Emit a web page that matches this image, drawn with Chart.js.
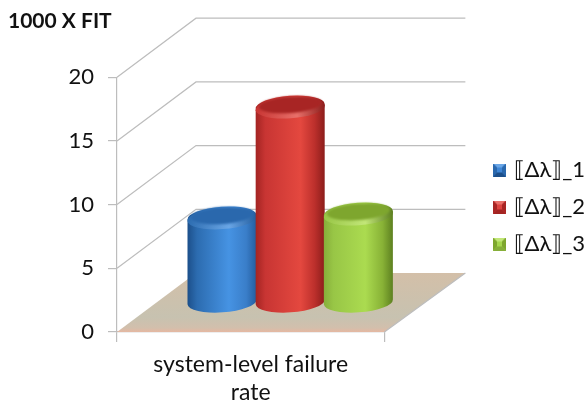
<!DOCTYPE html>
<html>
<head>
<meta charset="utf-8">
<style>
  html, body { margin: 0; padding: 0; background: #fff; }
  #wrap { width: 586px; height: 403px; }
</style>
<script src="https://cdn.jsdelivr.net/npm/chart.js@4"></script>
</head>
<body>
<div id="wrap"><canvas id="c" width="586" height="403"></canvas></div>
<script>
const categories = [["system-level failure", "rate"]];
const seriesNames = ["⟦Δλ⟧_1", "⟦Δλ⟧_2", "⟦Δλ⟧_3"];
const series1 = [6.7];
const series2 = [15.4];
const series3 = [7.0];
const yTicks = [0, 5, 10, 15, 20];
const axisTitle = "1000 X FIT";

// Colour ramps for each cylinder: body stops, top face, rim highlight
const palettes = [
  { base: "#3f86d6", top: "#2a68ad", rim: "#6aa6e6",
    body: [[0, "#1c4f8a"], [0.14, "#2c6cb0"], [0.6, "#4693e3"], [0.85, "#3a7ec9"], [1, "#235d9e"]] },
  { base: "#dc4340", top: "#a82524", rim: "#e8706a",
    body: [[0, "#a32422"], [0.14, "#c83533"], [0.65, "#e4483f"], [0.85, "#bd302c"], [1, "#8c1d1b"]] },
  { base: "#a5d64d", top: "#7ea62e", rim: "#c2e678",
    body: [[0, "#86ae3a"], [0.14, "#98c646"], [0.6, "#abdb50"], [0.85, "#88b236"], [1, "#5d8020"]] }
];

// Depth of the box and the position of the bars inside it
const depthX = 79;
const depthY = 59;
const capRy = 10.5;
const capTilt = -0.07;

function legendSwatch(p) {
  const s = 13, cv = document.createElement("canvas");
  cv.width = s; cv.height = s;
  const g = cv.getContext("2d");
  g.fillStyle = p.base;
  g.fillRect(0, 0, s, s);
  const edge = (pts, col) => {
    g.fillStyle = col;
    g.beginPath();
    pts.forEach((q, i) => i ? g.lineTo(q[0], q[1]) : g.moveTo(q[0], q[1]));
    g.closePath();
    g.fill();
  };
  edge([[0, 0], [s, 0], [s - 4, 4], [4, 4]], p.rim);
  edge([[0, 0], [4, 4], [4, s - 4], [0, s]], p.top);
  edge([[s, 0], [s - 4, 4], [s - 4, s - 4], [s, s]], p.top);
  edge([[0, s], [4, s - 4], [s - 4, s - 4], [s, s]], p.body[0][1]);
  return cv;
}
const swatches = palettes.map(legendSwatch);

function drawCylinder(ctx, el, p) {
  const w = el.width;
  const cx = el.x + depthX / 2;
  const topY = el.y - depthY / 2;
  const baseY = el.base - depthY / 2;
  const rx = w / 2 + 0.5;

  const grad = ctx.createLinearGradient(cx - rx, 0, cx + rx, 0);
  p.body.forEach(s => grad.addColorStop(s[0], s[1]));

  ctx.save();
  ctx.fillStyle = grad;
  ctx.beginPath();
  ctx.ellipse(cx, baseY, rx, capRy, capTilt, Math.PI, 0, true);
  ctx.ellipse(cx, topY, rx, capRy, capTilt, 0, Math.PI, true);
  ctx.closePath();
  ctx.fill();

  // Lit bevel around the front edge of the top face
  const rimGrad = ctx.createLinearGradient(cx - rx, 0, cx + rx, 0);
  rimGrad.addColorStop(0, p.body[1][1]);
  rimGrad.addColorStop(0.6, p.rim);
  rimGrad.addColorStop(1, p.body[4][1]);
  ctx.fillStyle = rimGrad;
  ctx.beginPath();
  ctx.ellipse(cx, topY + 1.5, rx, capRy, capTilt, 0, Math.PI * 2);
  ctx.fill();

  // Top face
  ctx.filter = "blur(0.8px)";
  ctx.fillStyle = p.top;
  ctx.beginPath();
  ctx.ellipse(cx, topY - 1.5, rx - 3, capRy - 2.2, capTilt, 0, Math.PI * 2);
  ctx.fill();
  ctx.restore();
}

// Back wall, side wall and floor of the box, all hung off the value scale
const boxPlugin = {
  id: "box",
  beforeDatasetsDraw(chart) {
    const { ctx, scales: { y, x } } = chart;
    const l = x.left, r = x.right;
    const y0 = y.getPixelForValue(0);

    const floor = ctx.createLinearGradient(0, y0 - depthY, 0, y0);
    floor.addColorStop(0, "#d3bfa8");
    floor.addColorStop(0.75, "#c7c2b0");
    floor.addColorStop(0.93, "#d2bfac");
    floor.addColorStop(1, "#e6b8a2");
    ctx.save();
    ctx.fillStyle = floor;
    ctx.beginPath();
    ctx.moveTo(l, y0);
    ctx.lineTo(r, y0);
    ctx.lineTo(r + depthX + 2, y0 - depthY);
    ctx.lineTo(l + depthX, y0 - depthY);
    ctx.closePath();
    ctx.fill();

    ctx.strokeStyle = "#bdbdbd";
    ctx.lineWidth = 1.2;
    ctx.beginPath();
    yTicks.filter(v => v > 0).forEach(v => {
      const py = y.getPixelForValue(v);
      ctx.moveTo(l, py);
      ctx.lineTo(l + depthX, py - depthY);
      ctx.lineTo(r + depthX + 2, py - depthY);
    });
    ctx.moveTo(r, y0);
    ctx.lineTo(r + depthX + 2, y0 - depthY);
    ctx.stroke();
    ctx.restore();
  },
  // The cylinders replace the flat bars and are painted left to right
  beforeDatasetDraw() {
    return false;
  },
  afterDatasetsDraw(chart) {
    chart.data.datasets.forEach((d, i) => {
      drawCylinder(chart.ctx, chart.getDatasetMeta(i).data[0], palettes[i]);
    });
  },
  afterLayout(chart) {
    // The legend sits clear of the box's depth on the right
    const lg = chart.legend;
    const w = lg.right - lg.left, h = lg.bottom - lg.top;
    lg.left = 481.5;
    lg.right = 481.5 + w;
    lg.top = 144;
    lg.bottom = 144 + h;
  }
};

Chart.defaults.font.family = "Lato, 'Liberation Sans', sans-serif";
Chart.defaults.color = "#111";

new Chart(document.getElementById("c"), {
  type: "bar",
  plugins: [boxPlugin],
  data: {
    labels: categories,
    datasets: [
      { label: seriesNames[0], data: series1, backgroundColor: palettes[0].base },
      { label: seriesNames[1], data: series2, backgroundColor: palettes[1].base },
      { label: seriesNames[2], data: series3, backgroundColor: palettes[2].base }
    ]
  },
  options: {
    responsive: false,
    animation: false,
    layout: { padding: { left: 8, right: 88, top: 0, bottom: 0 } },
    datasets: { bar: { categoryPercentage: 0.765, barPercentage: 1 } },
    plugins: {
      tooltip: { enabled: false },
      title: {
        display: true,
        text: axisTitle,
        align: "start",
        color: "#111",
        font: { size: 21, weight: "bold" },
        padding: { top: 9, bottom: 43 }
      },
      legend: {
        position: "right",
        align: "start",
        labels: {
          usePointStyle: true,
          pointStyleWidth: 6,
          padding: 15,
          font: { size: 22 },
          color: "#111",
          generateLabels: chart => chart.data.datasets.map((d, i) => ({
            text: d.label,
            datasetIndex: i,
            pointStyle: swatches[i],
            fontColor: "#111",
            lineWidth: 0
          }))
        }
      }
    },
    scales: {
      x: {
        offset: true,
        afterFit: s => { s.height = 71; },
        grid: { drawOnChartArea: false, color: "#bdbdbd", lineWidth: 1.2, tickLength: 10 },
        border: { color: "#bdbdbd", width: 1.2 },
        ticks: { color: "#111", font: { size: 23 }, padding: 9, maxRotation: 0 }
      },
      y: {
        min: 0,
        max: 20,
        afterFit: s => { s.width = 109; },
        afterBuildTicks: s => { s.ticks = yTicks.map(v => ({ value: v })); },
        grid: { drawOnChartArea: false, color: "#bdbdbd", lineWidth: 1.2, tickLength: 9 },
        border: { color: "#bdbdbd", width: 1.2 },
        ticks: { color: "#111", font: { size: 22 }, padding: 14 }
      }
    }
  }
});
</script>
</body>
</html>
